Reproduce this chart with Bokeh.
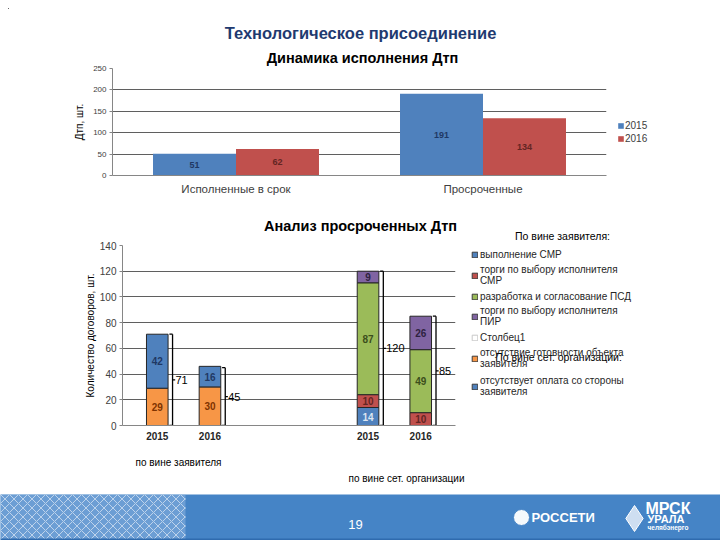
from bokeh.plotting import figure
from bokeh.models import (FactorRange, Range1d, Legend, LegendItem, Label,
                          ColumnDataSource, BoxAnnotation)
from bokeh.transform import dodge
from bokeh.embed import file_html
from bokeh.resources import INLINE
from bokeh.core.properties import value

FONT = "Liberation Sans"

# ---------------- data ----------------
page_title = "Технологическое присоединение"

c1_title = "Динамика исполнения Дтп"
c1_categories = ["Исполненные в срок", "Просроченные"]
c1_years = ["2015", "2016"]
c1_values_2015 = [51, 191]
c1_values_2016 = [62, 134]
c1_yticks = [0, 50, 100, 150, 200, 250]
c1_ylabel = "Дтп, шт."

c2_title = "Анализ просроченных Дтп"
c2_groups = ["по вине заявителя", "по вине сет. организации"]
c2_years = ["2015", "2016"]
c2_readiness = [29, 30, 0, 0]      # отсутствие готовности объекта заявителя
c2_payment = [42, 16, 0, 0]        # отсутствует оплата со стороны заявителя
c2_smr = [0, 0, 14, 0]             # выполнение СМР
c2_tender_smr = [0, 0, 10, 10]     # торги по выбору исполнителя СМР
c2_psd = [0, 0, 87, 49]            # разработка и согласование ПСД
c2_tender_pir = [0, 0, 9, 26]      # торги по выбору исполнителя ПИР
c2_column1 = [0, 0, 0, 0]          # Столбец1
c2_totals = [71, 45, 120, 85]
c2_yticks = [0, 20, 40, 60, 80, 100, 120, 140]
c2_ylabel = "Количество договоров, шт."
c2_legend_head1 = "По вине заявителя:"
c2_legend_head2 = "По вине сет. организации:"
c2_labels = {
    "smr": "выполнение СМР",
    "tender_smr": "торги по выбору исполнителя\nСМР",
    "psd": "разработка и согласование ПСД",
    "tender_pir": "торги по выбору исполнителя\nПИР",
    "column1": "Столбец1",
    "readiness": "отсутствие готовности объекта\nзаявителя",
    "payment": "отсутствует оплата со стороны\nзаявителя",
}

footer_page = "19"
footer_logo1 = "РОССЕТИ"
footer_logo2a = "МРСК"
footer_logo2b = "УРАЛА"
footer_logo2c = "челябэнерго"

BLUE, RED, GREEN, PURPLE, ORANGE = "#4F81BD", "#C0504D", "#9BBB59", "#8064A2", "#F79646"
COLORS = {"readiness": ORANGE, "payment": BLUE, "smr": BLUE, "tender_smr": RED,
          "psd": GREEN, "tender_pir": PURPLE, "column1": "#FFFFFF"}


def place(fig, left, top, z=1):
    fig.styles = {"position": "absolute", "left": f"{left}px", "top": f"{top}px",
                  "z-index": str(z)}


def style_axes(p, tick_size, tick_color):
    for ax in (p.xaxis, p.yaxis):
        ax.axis_line_color = "#868686"
        ax.major_tick_line_color = "#868686"
        ax.minor_tick_line_color = None
        ax.major_label_text_font = FONT
        ax.axis_label_text_font = FONT
    p.yaxis.major_tick_out = 3
    p.yaxis.major_tick_in = 0
    p.yaxis.major_label_standoff = 3
    p.yaxis.major_label_text_font_size = tick_size
    p.yaxis.major_label_text_color = tick_color
    p.xaxis.major_tick_out = 0
    p.xaxis.major_tick_in = 0
    p.xgrid.grid_line_color = None
    p.ygrid.grid_line_color = "#5F5F5F"
    p.outline_line_color = None


# ---------------- chart 1 ----------------
p1 = figure(width=704, height=200, title=None,
            x_range=FactorRange(*c1_categories, range_padding=0),
            y_range=Range1d(0, 250),
            toolbar_location=None, output_backend="svg",
            min_border_left=104, min_border_right=106,
            min_border_top=60, min_border_bottom=33)
place(p1, 8, 8)
style_axes(p1, "8px", "#404040")
p1.yaxis.ticker = c1_yticks
p1.yaxis.axis_label = c1_ylabel
p1.yaxis.axis_label_text_font_size = "10px"
p1.yaxis.axis_label_text_font_style = "normal"
p1.yaxis.axis_label_text_color = "#000000"
p1.yaxis.axis_label_standoff = 5
p1.xaxis.major_label_text_font_size = "11.5px"
p1.xaxis.major_label_text_color = "#404040"
p1.xaxis.major_label_standoff = 7

src1 = ColumnDataSource(dict(
    cat=c1_categories,
    v15=c1_values_2015, v16=c1_values_2016,
    m15=[v / 2 for v in c1_values_2015], m16=[v / 2 for v in c1_values_2016],
    t15=[str(v) for v in c1_values_2015], t16=[str(v) for v in c1_values_2016]))
p1.vbar(x=dodge("cat", -0.168, range=p1.x_range), top="v15", width=0.336,
        source=src1, fill_color=BLUE, line_color=None)
p1.vbar(x=dodge("cat", 0.168, range=p1.x_range), top="v16", width=0.336,
        source=src1, fill_color=RED, line_color=None)
p1.text(x=dodge("cat", -0.168, range=p1.x_range), y="m15", text="t15", source=src1,
        text_align="center", text_baseline="middle", text_font=value(FONT),
        text_font_size="9px", text_font_style="bold", text_color="#1F3864")
p1.text(x=dodge("cat", 0.168, range=p1.x_range), y="m16", text="t16", source=src1,
        text_align="center", text_baseline="middle", text_font=value(FONT),
        text_font_size="9px", text_font_style="bold", text_color="#632523")

# ---------------- chart 2 ----------------
factors = [(g, y) for g in c2_groups for y in c2_years]
p2 = figure(width=704, height=286, title=None,
            x_range=FactorRange(*factors, factor_padding=0, group_padding=2,
                                range_padding=0.16, range_padding_units="absolute"),
            y_range=Range1d(0, 140),
            toolbar_location=None, output_backend="svg",
            min_border_left=114, min_border_right=257,
            min_border_top=37, min_border_bottom=69)
place(p2, 8, 208)
style_axes(p2, "10px", "#404040")
p2.yaxis.ticker = c2_yticks
p2.yaxis.axis_label = c2_ylabel
p2.yaxis.axis_label_text_font_size = "10px"
p2.yaxis.axis_label_text_font_style = "normal"
p2.yaxis.axis_label_text_color = "#000000"
p2.yaxis.axis_label_standoff = 1
p2.xaxis.major_label_text_font_size = "10px"
p2.xaxis.major_label_text_font_style = "bold"
p2.xaxis.major_label_text_color = "#262626"
p2.xaxis.major_label_standoff = 6
p2.xaxis.group_text_color = None
p2.xaxis.separator_line_color = None

series = [
    ("readiness", c2_readiness, "#7F3300"),
    ("payment", c2_payment, "#1F3864"),
    ("smr", c2_smr, "#DCE6F2"),
    ("tender_smr", c2_tender_smr, "#632523"),
    ("psd", c2_psd, "#3B4E1C"),
    ("tender_pir", c2_tender_pir, "#2E2240"),
]
base = [0] * len(factors)
for key, vals, tcol in series:
    xs, bots, tops, mids, txt = [], [], [], [], []
    for i, v in enumerate(vals):
        if v > 0:
            xs.append(factors[i]); bots.append(base[i]); tops.append(base[i] + v)
            mids.append(base[i] + v / 2); txt.append(str(v))
        base[i] += v
    src = ColumnDataSource(dict(x=xs, bottom=bots, top=tops, mid=mids, t=txt))
    p2.vbar(x="x", bottom="bottom", top="top", width=0.41, source=src,
            fill_color=COLORS[key], line_color="#262626", line_width=1)
    p2.text(x="x", y="mid", text="t", source=src, text_align="center",
            text_baseline="middle", text_font=value(FONT), text_font_size="10px",
            text_font_style="bold", text_color=tcol)

# braces with totals
bsrc = ColumnDataSource(dict(
    bx=[f + (0.29,) for f in factors], bxl=[f + (0.23,) for f in factors],
    bxr=[f + (0.34,) for f in factors], tx=[f + (0.345,) for f in factors],
    zero=[0] * len(factors), top=c2_totals, mid=[t / 2 for t in c2_totals],
    t=[str(t) for t in c2_totals]))
for x0, y0, x1, y1 in [("bx", "zero", "bx", "top"), ("bxl", "top", "bx", "top"),
                       ("bxl", "zero", "bx", "zero"), ("bx", "mid", "bxr", "mid")]:
    p2.segment(x0=x0, y0=y0, x1=x1, y1=y1, source=bsrc, line_color="#000000", line_width=1.3)
p2.text(x="tx", y="mid", text="t", source=bsrc, text_align="left", text_baseline="middle",
        text_font=value(FONT), text_font_size="11px", text_color="#000000")

# ---------------- footer ----------------
FOOT = "#4584C6"
p3 = figure(width=720, height=46, title=None, x_range=Range1d(0, 720), y_range=Range1d(0, 46),
            x_axis_type=None, y_axis_type=None, toolbar_location=None, output_backend="svg",
            min_border=0, background_fill_color=FOOT, border_fill_color=FOOT,
            outline_line_color=None)
place(p3, 0, 494)
p3.grid.visible = False
p3.add_layout(BoxAnnotation(left=0, right=185, fill_color="#8DB4E0", fill_alpha=0.55,
                            hatch_pattern="diagonal_cross", hatch_color="#FFFFFF",
                            hatch_alpha=0.55, hatch_scale=9, hatch_weight=1, line_color=None))
p3.add_layout(BoxAnnotation(bottom=0, top=2, fill_color="#2F6BAE", fill_alpha=1, line_color=None))
p3.scatter(x=[521], y=[23], marker="circle", size=16, fill_color="#FFFFFF",
           line_color=FOOT, fill_alpha=0.95)
p3.scatter(x=[634], y=[22], marker="diamond", size=26, fill_color="#DDE8F5",
           line_color="#FFFFFF", fill_alpha=0.9)
for txt, x, y, size, style, align in [
        (footer_page, 355, 16, "13px", "normal", "center"),
        (footer_logo1, 531, 23, "13px", "bold", "left"),
        (footer_logo2a, 645, 32, "16px", "bold", "left"),
        (footer_logo2b, 647, 22, "11px", "bold", "left"),
        (footer_logo2c, 647, 13, "6.5px", "bold", "left")]:
    p3.add_layout(Label(x=x, y=y, text=txt, text_align=align, text_baseline="middle",
                        text_font=FONT, text_font_size=size, text_font_style=style,
                        text_color="#FFFFFF"))

# ---------------- text / legend overlay (page pixel coordinates) ----------------
ov = figure(width=704, height=524, title=None, x_range=Range1d(8, 712), y_range=Range1d(532, 8),
            x_axis_type=None, y_axis_type=None, toolbar_location=None, output_backend="svg",
            min_border=0, outline_line_color=None)
ov.background_fill_alpha = 0
ov.border_fill_alpha = 0
ov.grid.visible = False
place(ov, 8, 8, z=5)


def ov_label(txt, x, y, size, style="normal", color="#000000", align="center"):
    ov.add_layout(Label(x=x, y=y, text=txt, text_align=align, text_baseline="middle",
                        text_font=FONT, text_font_size=size, text_font_style=style,
                        text_color=color))


ov_label(page_title, 360, 32, "16.5px", "bold", "#1F3A70")
ov_label(c1_title, 362, 57, "14.5px", "bold")
ov_label(c2_title, 360, 225, "14.5px", "bold")
ov_label(c2_legend_head1, 562, 235, "10.5px")
ov_label(c2_groups[0], 178, 462, "10px")
ov_label(c2_groups[1], 406, 478, "10px")

# legend swatch renderers (a single point kept outside the visible range)
offscreen = ColumnDataSource(dict(x=[-500], top=[-500], bottom=[-510]))


def swatch(color, line):
    return ov.vbar(x="x", top="top", bottom="bottom", width=1, source=offscreen,
                   fill_color=color, line_color=line, line_width=1)


s15 = swatch(BLUE, None)
s16 = swatch(RED, None)
leg1 = Legend(items=[LegendItem(label=value(c1_years[0]), renderers=[s15]),
                     LegendItem(label=value(c1_years[1]), renderers=[s16])],
              location=(609, 387), glyph_width=7, glyph_height=7, label_height=13,
              label_standoff=1, spacing=0, padding=0, margin=0,
              border_line_color=None, background_fill_alpha=0,
              label_text_font=FONT, label_text_font_size="10px", label_text_color="#404040")
ov.add_layout(leg1)

legend_order = ["smr", "tender_smr", "psd", "tender_pir", "column1", "readiness", "payment"]
legend_centers = [254, 275, 296, 316, 337, 358, 386]
for key, cy in zip(legend_order, legend_centers):
    r = swatch(COLORS[key], "#3A3A3A" if key != "column1" else "#C8C8C8")
    two = "\n" in c2_labels[key]
    h = 26 if two else 14
    lg = Legend(items=[LegendItem(label=value(c2_labels[key]), renderers=[r])],
                location=(463, 532 - cy - h / 2), glyph_width=7, glyph_height=7,
                label_height=h, label_standoff=2, spacing=0, padding=0, margin=0,
                border_line_color=None, background_fill_alpha=0,
                label_text_font=FONT, label_text_font_size="10px",
                label_text_color="#262626", label_text_line_height=1.3)
    ov.add_layout(lg)

ov_label(c2_legend_head2, 558, 356, "10.5px")

open("out.html", "w").write(file_html([p1, p2, p3, ov], INLINE))
